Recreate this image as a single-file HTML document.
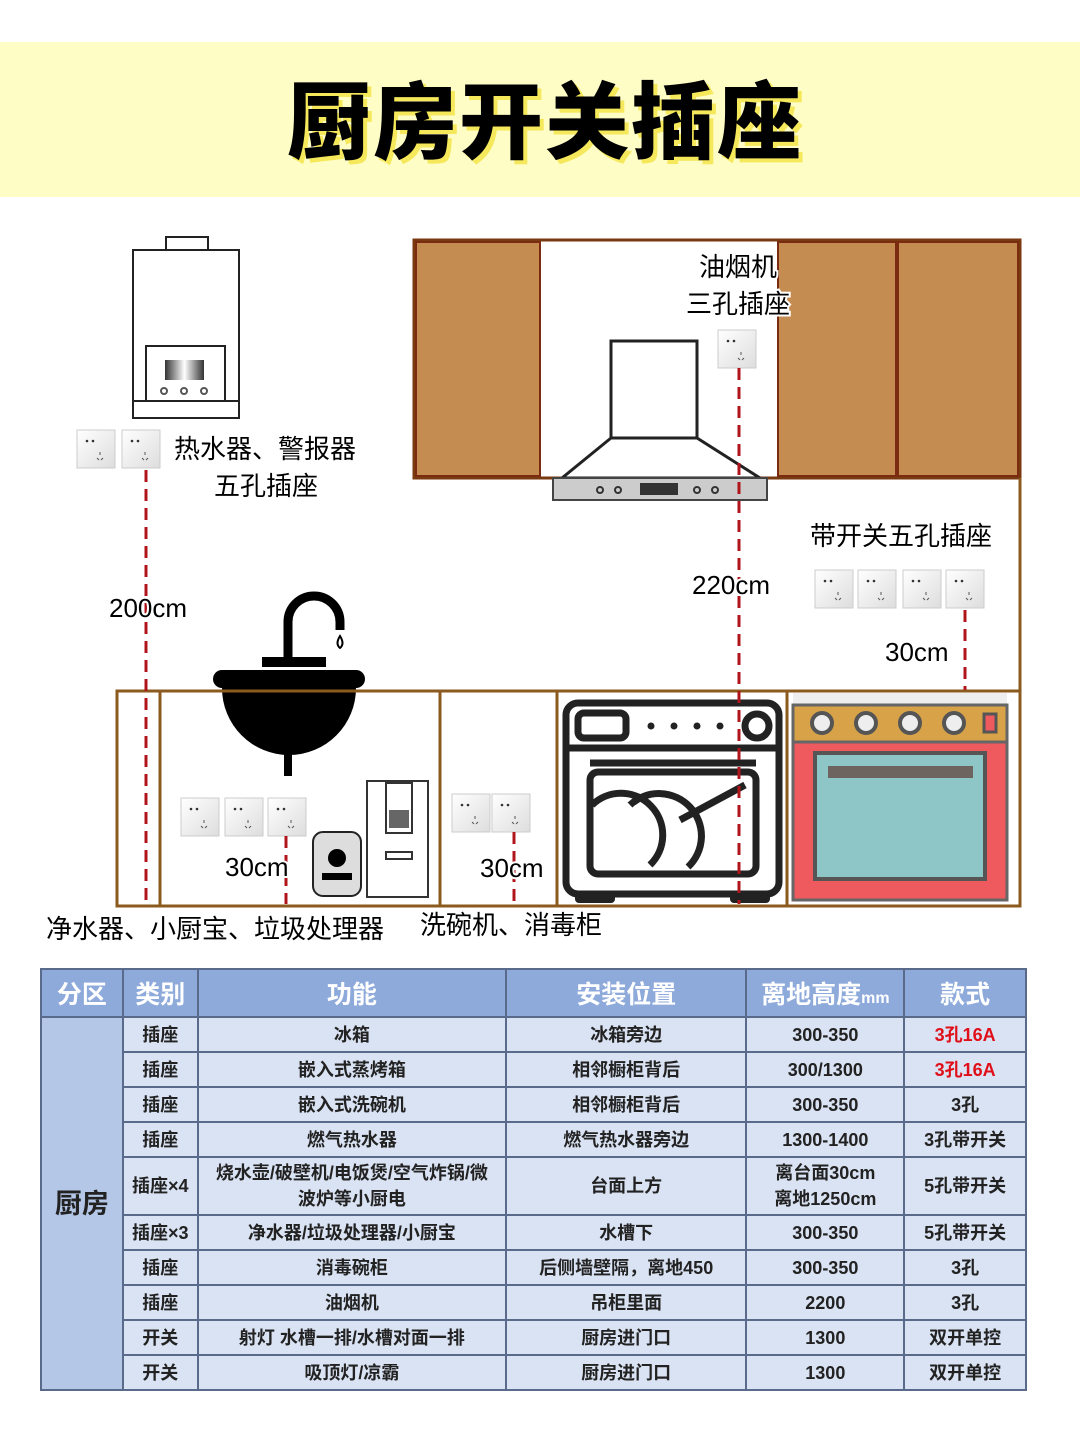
<!DOCTYPE html>
<html><head><meta charset="utf-8"><style>
body{margin:0;width:1080px;height:1440px;background:#fff;position:relative;overflow:hidden;font-family:"Liberation Sans","Noto Sans CJK SC",sans-serif}
.title{position:absolute;left:0;top:42px;width:1080px;height:155px;background:#fffdc6}
.title div{position:absolute;left:0;width:1090px;top:14px;text-align:center;font-size:84px;font-weight:900;color:#000;letter-spacing:2px;text-shadow:4px 4px 0 #f5e85a}
table{position:absolute;left:40px;top:968px;width:987px;border-collapse:collapse;font-weight:bold;font-size:18px;color:#222}
td{border:2px solid #5a6a8a;text-align:center;background:#dae3f3;padding:0;height:33px;line-height:26px}
th{background:#8eaadb;color:#fff;font-size:25px;height:44px;border:2px solid #5a6a8a}
.red{color:#e0101a}
svg text{paint-order:stroke;stroke:#fff;stroke-width:4px}
</style></head><body>
<div class="title"><div>厨房开关插座</div></div>
<svg width="1080" height="960" style="position:absolute;left:0;top:0" font-family="Liberation Sans,Noto Sans CJK SC,sans-serif">
<defs><linearGradient id="g" x1="0" y1="0" x2="1" y2="1"><stop offset="0" stop-color="#fff"/><stop offset="1" stop-color="#ddd"/></linearGradient>
<linearGradient id="m" x1="0" x2="1"><stop offset="0" stop-color="#333"/><stop offset=".5" stop-color="#fff"/><stop offset="1" stop-color="#333"/></linearGradient>
<g id="s"><rect x="0" y="0" width="38" height="38" fill="url(#g)" stroke="#ccc"/><circle cx="10" cy="11" r="1.3" fill="#333"/><circle cx="16" cy="11" r="1.3" fill="#333"/><path d="M23 22v3M20 28l2 2M26 28l-2 2" stroke="#555"/></g></defs>
<!-- water heater -->
<rect x="166" y="237" width="42" height="13" fill="#fff" stroke="#222" stroke-width="2"/>
<rect x="133" y="250" width="106" height="168" fill="#fff" stroke="#222" stroke-width="2"/>
<rect x="146" y="346" width="79" height="55" fill="#fff" stroke="#222" stroke-width="2"/>
<line x1="133" y1="401" x2="239" y2="401" stroke="#222" stroke-width="2"/>
<rect x="165" y="360" width="39" height="20" fill="url(#m)"/>
<circle cx="164" cy="391" r="3" fill="none" stroke="#555" stroke-width="2"/><circle cx="184" cy="391" r="3" fill="none" stroke="#555" stroke-width="2"/><circle cx="204" cy="391" r="3" fill="none" stroke="#555" stroke-width="2"/>
<use href="#s" x="77" y="430"/><use href="#s" x="122" y="430"/>
<!-- upper cabinets -->
<rect x="414" y="240" width="606" height="238" fill="#fff" stroke="#7a3a10" stroke-width="3"/>
<rect x="416" y="242" width="124" height="234" fill="#c58c52" stroke="#7a2b10" stroke-width="2"/>
<rect x="778" y="242" width="118" height="234" fill="#c58c52" stroke="#7a2b10" stroke-width="2"/>
<rect x="898" y="242" width="120" height="234" fill="#c58c52" stroke="#7a2b10" stroke-width="2"/>
<line x1="1020" y1="478" x2="1020" y2="692" stroke="#8b5a1e" stroke-width="3"/>
<!-- hood -->
<rect x="611" y="341" width="86" height="97" fill="#fff" stroke="#222" stroke-width="3"/>
<path d="M611 438L562 478H760L697 438Z" fill="#fff" stroke="#222" stroke-width="3"/>
<rect x="553" y="478" width="214" height="22" fill="#ccc" stroke="#444" stroke-width="2"/>
<rect x="640" y="483" width="38" height="12" fill="#333"/>
<g fill="none" stroke="#333" stroke-width="2"><circle cx="600" cy="490" r="3"/><circle cx="618" cy="490" r="3"/><circle cx="697" cy="490" r="3"/><circle cx="715" cy="490" r="3"/></g>
<use href="#s" x="718" y="330"/>
<use href="#s" x="815" y="570"/><use href="#s" x="858" y="570"/><use href="#s" x="903" y="570"/><use href="#s" x="946" y="570"/>
<!-- faucet & sink -->
<path d="M288 658V622a26 26 0 0 1 52 0v8" fill="none" stroke="#000" stroke-width="9"/>
<path d="M340 636q-5 8 0 12q5-4 0-12z" fill="none" stroke="#000" stroke-width="2"/>
<rect x="262" y="657" width="64" height="10" fill="#000"/>
<rect x="213" y="670" width="152" height="18" rx="9" fill="#000"/>
<path d="M222 688h134a67 67 0 0 1-134 0z" fill="#000"/>
<rect x="284" y="750" width="8" height="26" fill="#000"/>
<!-- base cabinets -->
<rect x="117" y="691" width="903" height="215" fill="none" stroke="#8b5a1e" stroke-width="3"/>
<g stroke="#8b5a1e" stroke-width="3"><line x1="160" y1="691" x2="160" y2="906"/><line x1="440" y1="691" x2="440" y2="906"/><line x1="557" y1="691" x2="557" y2="906"/><line x1="787" y1="691" x2="787" y2="906"/></g>
<use href="#s" x="181" y="798"/><use href="#s" x="225" y="798"/><use href="#s" x="268" y="798"/>
<use href="#s" x="452" y="794"/><use href="#s" x="492" y="794"/>
<!-- small devices -->
<rect x="313" y="832" width="48" height="64" rx="10" fill="#ddd" stroke="#222" stroke-width="2"/><circle cx="337" cy="858" r="9" fill="#000"/><rect x="322" y="873" width="30" height="7" fill="#000"/>
<rect x="367" y="781" width="61" height="116" fill="#fff" stroke="#333" stroke-width="2"/><rect x="386" y="783" width="26" height="50" fill="#fff" stroke="#333" stroke-width="2"/><rect x="389" y="810" width="20" height="18" fill="#666"/><rect x="386" y="852" width="26" height="7" fill="#fff" stroke="#333" stroke-width="2"/>
<!-- dishwasher -->
<g fill="none" stroke="#222" stroke-width="7">
<rect x="566" y="703" width="213" height="191" rx="12"/>
<line x1="566" y1="748" x2="779" y2="748"/>
<rect x="578" y="713" width="48" height="25" rx="6"/>
<circle cx="757" cy="726" r="12"/>
<line x1="590" y1="763" x2="756" y2="763"/>
<rect x="590" y="772" width="166" height="102" rx="8"/>
<path d="M592 805a40 40 0 0 1 58 60"/><path d="M630 805a42 42 0 0 1 58 62"/>
<line x1="680" y1="820" x2="745" y2="785"/>
</g>
<g fill="#222"><circle cx="651" cy="726" r="3.5"/><circle cx="674" cy="726" r="3.5"/><circle cx="697" cy="726" r="3.5"/><circle cx="720" cy="726" r="3.5"/>
<rect x="575" y="893" width="40" height="10" rx="4"/><rect x="730" y="893" width="40" height="10" rx="4"/></g>
<!-- oven -->
<rect x="793" y="693" width="214" height="12" fill="#eee"/>
<rect x="793" y="705" width="214" height="37" fill="#d8a249" stroke="#666" stroke-width="3"/>
<rect x="793" y="742" width="214" height="158" fill="#ef5a5f" stroke="#666" stroke-width="3"/>
<rect x="815" y="753" width="170" height="126" fill="#8ec6c7" stroke="#555" stroke-width="4"/>
<rect x="828" y="766" width="145" height="12" fill="#6d6460"/>
<g fill="#eee" stroke="#555" stroke-width="4"><circle cx="822" cy="723" r="10"/><circle cx="866" cy="723" r="10"/><circle cx="910" cy="723" r="10"/><circle cx="954" cy="723" r="10"/></g>
<rect x="984" y="714" width="12" height="18" fill="#ef5a5f" stroke="#555" stroke-width="3"/>
<!-- dashed lines -->
<g stroke="#b0151c" stroke-width="3" stroke-dasharray="12 7"><line x1="146" y1="470" x2="146" y2="904"/><line x1="739" y1="368" x2="739" y2="904"/><line x1="965" y1="610" x2="965" y2="690"/><line x1="286" y1="836" x2="286" y2="904"/><line x1="514" y1="832" x2="514" y2="904"/></g>
<!-- labels -->
<g font-size="26" fill="#000">
<text x="174" y="458">热水器、警报器</text><text x="214" y="495">五孔插座</text>
<text x="699" y="276">油烟机</text><text x="686" y="313">三孔插座</text>
<text x="810" y="545">带开关五孔插座</text>
<text x="885" y="661">30cm</text>
<text x="692" y="594">220cm</text>
<text x="109" y="617">200cm</text>
<text x="225" y="876">30cm</text><text x="480" y="877">30cm</text>
<text x="46" y="938">净水器、小厨宝、垃圾处理器</text><text x="420" y="934">洗碗机、消毒柜</text>
</g>
</svg>
<table>
<colgroup><col style="width:82px"><col style="width:75px"><col style="width:309px"><col style="width:241px"><col style="width:158px"><col style="width:122px"></colgroup>
<tr><th>分区</th><th>类别</th><th>功能</th><th>安装位置</th><th>离地高度<span style="font-size:16px">mm</span></th><th>款式</th></tr>
<tr><td rowspan="10" style="background:#b4c7e7;font-size:27px">厨房</td><td>插座</td><td>冰箱</td><td>冰箱旁边</td><td>300-350</td><td class="red">3孔16A</td></tr>
<tr><td>插座</td><td>嵌入式蒸烤箱</td><td>相邻橱柜背后</td><td>300/1300</td><td class="red">3孔16A</td></tr>
<tr><td>插座</td><td>嵌入式洗碗机</td><td>相邻橱柜背后</td><td>300-350</td><td>3孔</td></tr>
<tr><td>插座</td><td>燃气热水器</td><td>燃气热水器旁边</td><td>1300-1400</td><td>3孔带开关</td></tr>
<tr><td style="height:56px">插座×4</td><td>烧水壶/破壁机/电饭煲/空气炸锅/微<br>波炉等小厨电</td><td>台面上方</td><td>离台面30cm<br>离地1250cm</td><td>5孔带开关</td></tr>
<tr><td>插座×3</td><td>净水器/垃圾处理器/小厨宝</td><td>水槽下</td><td>300-350</td><td>5孔带开关</td></tr>
<tr><td>插座</td><td>消毒碗柜</td><td>后侧墙壁隔，离地450</td><td>300-350</td><td>3孔</td></tr>
<tr><td>插座</td><td>油烟机</td><td>吊柜里面</td><td>2200</td><td>3孔</td></tr>
<tr><td>开关</td><td>射灯 水槽一排/水槽对面一排</td><td>厨房进门口</td><td>1300</td><td>双开单控</td></tr>
<tr><td>开关</td><td>吸顶灯/凉霸</td><td>厨房进门口</td><td>1300</td><td>双开单控</td></tr>
</table>
</body></html>
